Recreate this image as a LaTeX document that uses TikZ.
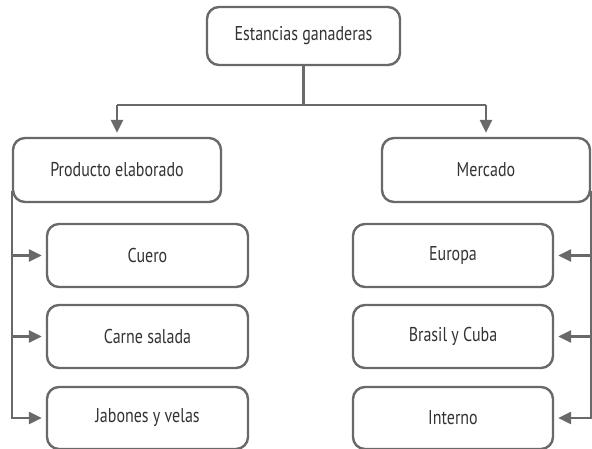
\documentclass[tikz,border=0pt]{standalone}
\usepackage{fontspec}
\setmainfont[FakeStretch=0.8]{PT Sans}
\usetikzlibrary{arrows.meta}
\definecolor{lg}{RGB}{105,105,105}
\begin{document}
\begin{tikzpicture}[x=1pt,y=-1pt,
  box/.style={draw=lg,line width=2.4pt,rounded corners=12pt,fill=white,
    inner sep=0pt,font=\fontsize{20}{22}\selectfont,text=black!80},
  conn/.style={draw=lg,line width=2.6pt},
  arr/.style={conn,-{Triangle[length=13pt,width=12pt]},shorten >=4pt}]
\useasboundingbox (0,0) rectangle (592,449);
\node[box,minimum width=193pt,minimum height=58pt] (top) at (303.5,36) {Estancias ganaderas};
\node[box,minimum width=208pt,minimum height=64pt] (prod) at (117,170) {Producto elaborado};
\node[box,minimum width=208pt,minimum height=64pt] (merc) at (486,170) {Mercado};
\node[box,minimum width=201pt,minimum height=63pt] (cuero) at (147.5,255.5) {Cuero};
\node[box,minimum width=201pt,minimum height=63pt] (carne) at (147.5,336.5) {Carne salada};
\node[box,minimum width=201pt,minimum height=62pt] (jab) at (147.5,418) {Jabones y velas};
\node[box,minimum width=200pt,minimum height=63pt] (eur) at (453,255.5) {Europa};
\node[box,minimum width=200pt,minimum height=63pt] (bra) at (453,336.5) {Brasil y Cuba};
\node[box,minimum width=200pt,minimum height=62pt] (int) at (453,418) {Interno};
\coordinate (j) at (top.south |- 0,105);
\draw[conn] (top.south) -- (j);
\draw[conn] (prod.north |- j) -- (merc.north |- j);
\draw[arr] (prod.north |- j) -- (prod.north);
\draw[arr] (merc.north |- j) -- (merc.north);
\coordinate (ls) at ([yshift=12pt]prod.south west);
\coordinate (rs) at ([yshift=12pt]merc.south east);
\draw[conn] (ls) -- (ls |- jab);
\draw[conn] (rs) -- (rs |- int);
\draw[arr] (ls |- cuero) -- (cuero.west);
\draw[arr] (ls |- carne) -- (carne.west);
\draw[arr] ([xshift=-1.3pt]ls |- jab) -- (jab.west);
\draw[arr] (rs |- eur) -- (eur.east);
\draw[arr] (rs |- bra) -- (bra.east);
\draw[arr] ([xshift=1.3pt]rs |- int) -- (int.east);
\end{tikzpicture}
\end{document}
